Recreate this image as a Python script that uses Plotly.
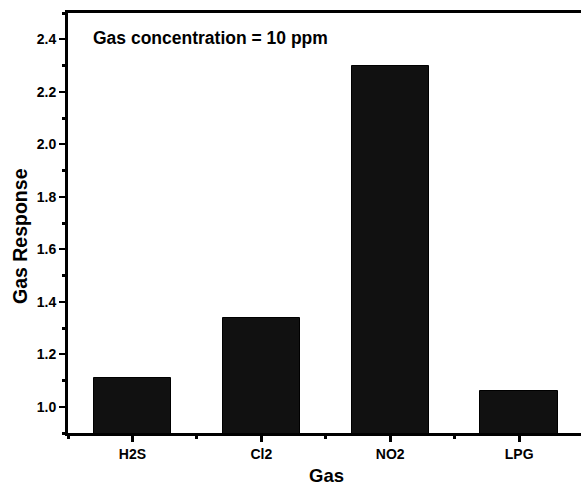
import plotly.graph_objects as go

# Gas response of the sensor at 10 ppm for each test gas
gases = ["H2S", "Cl2", "NO2", "LPG"]
response = [1.11, 1.34, 2.30, 1.06]

FONT = "Liberation Sans, Arial, sans-serif"

# plot-area geometry in pixels
W, H = 581, 487
ML, MR, MT, MB = 68, 0, 13, 54
PW, PH = W - ML - MR, H - MT - MB


def px_x(p):
    return (p - ML) / PW


def px_y(p):
    return (H - MB - p) / PH


xpos = list(range(len(gases)))

fig = go.Figure(
    go.Bar(
        x=xpos,
        y=response,
        width=0.6,
        marker=dict(color="#111111", line=dict(color="#000000", width=1)),
    )
)

fig.update_layout(
    width=W,
    height=H,
    margin=dict(l=ML, r=MR, t=MT, b=MB, pad=0),
    paper_bgcolor="white",
    plot_bgcolor="white",
    showlegend=False,
    font=dict(family=FONT, color="black"),
    bargap=0,
)

fig.update_xaxes(
    range=[-0.5, 3.48],
    tickmode="array",
    tickvals=xpos,
    ticktext=gases,
    ticks="outside",
    ticklen=6,
    tickwidth=3,
    tickcolor="black",
    tickfont=dict(family=FONT, size=14, weight="bold", color="black"),
    showline=True,
    linecolor="black",
    linewidth=3,
    mirror=True,
    showgrid=False,
    zeroline=False,
    minor=dict(tick0=-0.5, dtick=1, ticks="outside", ticklen=3, tickwidth=3,
               tickcolor="black", showgrid=False),
)

fig.update_yaxes(
    range=[0.9, 2.5],
    tick0=1.0,
    dtick=0.2,
    tickformat=".1f",
    ticks="outside",
    ticklen=6,
    tickwidth=2,
    tickcolor="black",
    tickfont=dict(family=FONT, size=14, weight="bold", color="black"),
    showline=True,
    linecolor="black",
    linewidth=3,
    mirror=False,
    showgrid=False,
    zeroline=False,
    minor=dict(tick0=0.9, dtick=0.1, ticks="outside", ticklen=3, tickwidth=3,
               tickcolor="black", showgrid=False),
)

fig.add_annotation(
    text="Gas concentration = 10 ppm",
    xref="paper", yref="paper",
    x=px_x(91), y=px_y(37.5),
    xanchor="left", yanchor="middle",
    showarrow=False,
    font=dict(family=FONT, size=17.5, weight="bold", color="black"),
)

fig.add_annotation(
    text="Gas",
    xref="paper", yref="paper",
    x=px_x(326), y=px_y(475),
    xanchor="center", yanchor="middle",
    showarrow=False,
    font=dict(family=FONT, size=18.5, weight="bold", color="black"),
)

fig.add_annotation(
    text="Gas Response",
    xref="paper", yref="paper",
    x=px_x(20), y=px_y(236),
    xanchor="center", yanchor="middle",
    textangle=-90,
    showarrow=False,
    font=dict(family=FONT, size=19.5, weight="bold", color="black"),
)

fig.write_html("out.html")
